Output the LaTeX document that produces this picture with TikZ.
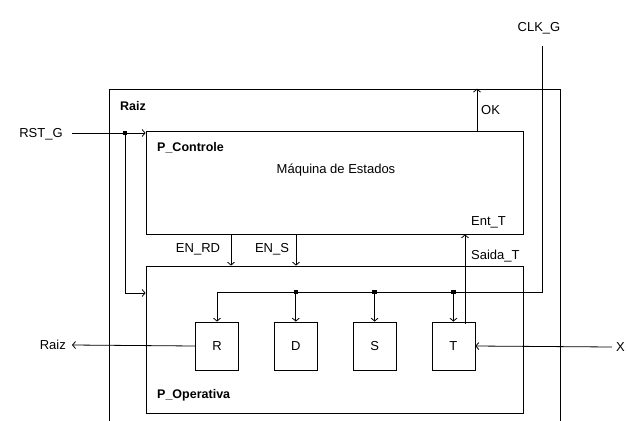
\documentclass[tikz,border=0pt]{standalone}
\usepackage{fontspec}
\setmainfont{Liberation Sans}
\usetikzlibrary{arrows.meta,positioning,calc}

\begin{document}
\begin{tikzpicture}[x=1pt, y=-1pt, node distance=35pt, font=\fontsize{13}{15}\selectfont]
    % Define styles
    \tikzstyle{block} = [rectangle, draw=black, line width=0.8pt, inner sep=0pt]
    \tikzstyle{reg} = [rectangle, draw=black, line width=0.8pt, minimum width=43pt, minimum height=48pt]
    \tikzstyle{wire} = [line width=0.8pt, -{Straight Barb[length=3pt,width=7pt]}]
    \tikzstyle{plain} = [line width=0.8pt]
    \tikzstyle{title} = [font=\fontsize{12.5}{14}\selectfont\bfseries, anchor=west, inner sep=0pt]
    \tikzstyle{lbl} = [inner sep=0pt]
    \tikzstyle{joint} = [fill=black, minimum size=4.5pt, inner sep=0pt, rectangle]

    \useasboundingbox (0,0) rectangle (628,420);
    \clip (0,0) rectangle (628,420);

    % Blocks
    \node [block, minimum width=451pt, minimum height=351pt] (raiz) at (334.5,264.5) {};
    \node [block, minimum width=377pt, minimum height=103pt] (ctrl) at (334.5,182.5) {};
    \node [block, minimum width=377pt, minimum height=147pt] (oper) at (334.5,339.5) {};
    \node [reg] (R) at (217,346) {R};
    \node [reg, right=of R] (D) {D};
    \node [reg, right=of D] (S) {S};
    \node [reg, right=of S] (T) {T};

    % Titles
    \node [title] at (120,106) {Raiz};
    \node [title] at (157,148) {P\_Controle};
    \node [title] at (157,395) {P\_Operativa};
    \node [lbl] at (336,170) {Máquina de Estados};

    % Pins
    \node [lbl] (rstlbl) at (41,134) {RST\_G};
    \node [lbl] (clklbl) at (539,28) {CLK\_G};
    \node [lbl, anchor=east] (raizout) at (66,345) {Raiz};
    \node [lbl, anchor=west] (xin) at (616,347) {X};
    \coordinate (rstdot) at (125,133);
    \coordinate (clkin) at (542,46);
    \coordinate (clkbus) at (542,292);
    \coordinate (okpin) at (477,131);
    \coordinate (enrd) at (231,234);
    \coordinate (ens) at (296,234);
    \coordinate (entt) at (465,324);

    % Reset
    \draw [plain] ($(rstlbl.east)+(9,-1)$) -- (rstdot);
    \draw [wire] (rstdot) -- (ctrl.west |- rstdot);
    \draw [wire] (rstdot) |- (oper.west |- 0,293);
    \node [joint] at (rstdot) {};

    % Clock
    \draw [wire] (clkin) -- (clkbus) -| (R.north);
    \foreach \b in {D,S,T} {
        \draw [wire] (\b.north |- clkbus) -- (\b.north);
        \node [joint] at (\b.north |- clkbus) {};
    }

    % Control signals
    \draw [wire] (okpin) -- (okpin |- raiz.north);
    \node [lbl, anchor=west] at (481,110) {OK};
    \draw [wire] (enrd) -- (enrd |- oper.north);
    \draw [wire] (ens) -- (ens |- oper.north);
    \node [lbl] at (198,249) {EN\_RD};
    \node [lbl] at (272,249) {EN\_S};
    \draw [wire] (entt) -- (entt |- ctrl.south);
    \node [lbl, anchor=west] at (471,222) {Ent\_T};
    \node [lbl, anchor=west] at (471,256) {Saida\_T};

    % Outputs / inputs
    \draw [wire] (R.west) -- ($(raizout.east)+(6,0)$);
    \draw [wire] ($(xin.west)+(-4,0)$) -- (T.east);
\end{tikzpicture}
\end{document}
